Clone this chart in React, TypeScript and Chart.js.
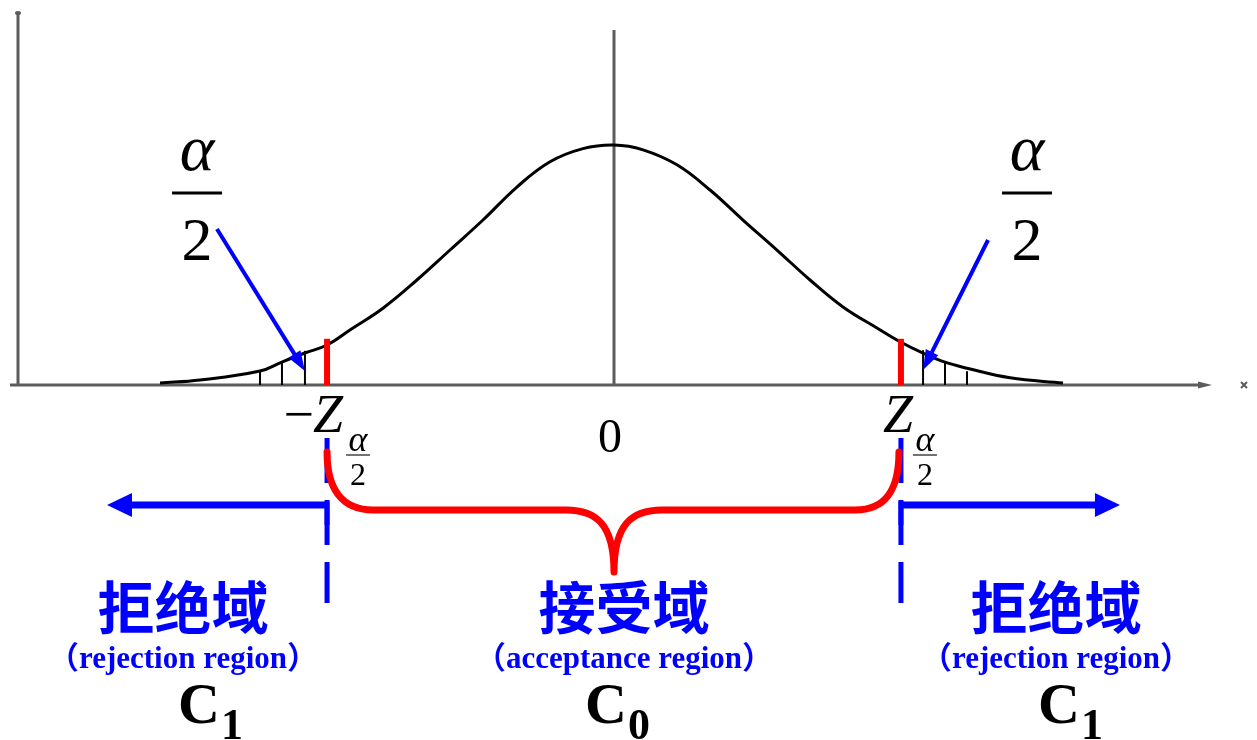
import { useEffect, useRef } from "react";
import { Chart, registerables } from "chart.js";

Chart.register(...registerables);

// Standard-normal curve (z, density)
const curveZ = [
  -3.101, -2.828, -2.418, -2.268, -2.111, -1.96, -1.796, -1.578, -1.346, -1.12, -0.895,
  -0.663, -0.437, -0.212, 0, 0.198, 0.43, 0.656, 0.881, 1.113, 1.339, 1.564,
  1.796, 1.954, 2.111, 2.261, 2.411, 2.705, 3.067,
];
const curveDensity = [
  0.0033, 0.0083, 0.0233, 0.0383, 0.0533, 0.0667, 0.093, 0.128, 0.175, 0.225, 0.275,
  0.33, 0.372, 0.394, 0.4, 0.392, 0.367, 0.325, 0.275, 0.225, 0.175, 0.13,
  0.095, 0.072, 0.053, 0.038, 0.028, 0.012, 0.0033,
];

// critical values and the red markers
const criticalZ = [-1.96, 1.96];
const criticalMarkTop = [0.077, 0.077];

// hatching in the tails
const hatchZ = [-2.418, -2.268, -2.111, 2.111, 2.261, 2.411];
const hatchTop = [0.025, 0.04, 0.057, 0.058, 0.04, 0.023];

// alpha/2 callouts: label centre, arrow tail, arrow tip (z, density)
const alphaLabelZ = [-2.848, 2.821];
const alphaLabelLine = [0.32, 0.32];
const alphaTailZ = [-2.712, 2.555];
const alphaTailY = [0.26, 0.2417];
const alphaTipZ = [-2.111, 2.111];
const alphaTipY = [0.0233, 0.025];

// reference line of the mean
const meanZ = 0;
const meanLineTop = 0.5917;

// axis tick labels
const tickLabels = ["−Z", "0", "Z"];

// region arrows end (z)
const rejectArrowEndZ = [-3.463, 3.456];

// region texts
const regionNames = ["拒绝域", "接受域", "拒绝域"];
const regionEnglish = ["（rejection region）", "（acceptance region）", "（rejection region）"];
const regionSymbols = ["C", "C", "C"];
const regionSubscripts = ["1", "0", "1"];

const BLUE = "#0000ff";
const RED = "#ff0000";
const AXIS = "#5c5c5c";
const SERIF = "'Liberation Serif', 'DejaVu Serif', serif";

function arrowHead(ctx: CanvasRenderingContext2D, x1: number, y1: number, x2: number, y2: number, len: number, half: number) {
  const a = Math.atan2(y2 - y1, x2 - x1);
  const bx = x2 - len * Math.cos(a);
  const by = y2 - len * Math.sin(a);
  ctx.beginPath();
  ctx.moveTo(x2, y2);
  ctx.lineTo(bx + half * Math.sin(a), by - half * Math.cos(a));
  ctx.lineTo(bx - half * Math.sin(a), by + half * Math.cos(a));
  ctx.closePath();
  ctx.fill();
}

const diagramPlugin = {
  id: "diagram",
  beforeDatasetsDraw(chart: any) {
    const { ctx, chartArea, scales } = chart;
    const x = scales.x;
    const y = scales.y;
    const yAxis = y.getPixelForValue(0);
    ctx.save();
    ctx.strokeStyle = AXIS;
    ctx.fillStyle = AXIS;
    ctx.lineWidth = 3;
    // horizontal axis
    ctx.beginPath();
    ctx.moveTo(chartArea.left - 8, yAxis);
    ctx.lineTo(chartArea.right - 8, yAxis);
    ctx.stroke();
    arrowHead(ctx, chartArea.right - 20, yAxis, chartArea.right + 2, yAxis, 14, 3.5);
    // vertical axis
    ctx.beginPath();
    ctx.moveTo(chartArea.left, yAxis);
    ctx.lineTo(chartArea.left, chartArea.top + 2);
    ctx.stroke();
    ctx.beginPath();
    ctx.ellipse(chartArea.left, chartArea.top + 1, 3, 2, 0, 0, Math.PI * 2);
    ctx.fill();
    // mean line
    const mx = x.getPixelForValue(meanZ);
    ctx.beginPath();
    ctx.moveTo(mx, yAxis);
    ctx.lineTo(mx, y.getPixelForValue(meanLineTop));
    ctx.stroke();
    // small x marker
    const cx = chartArea.right + 34;
    ctx.lineWidth = 2;
    ctx.beginPath();
    ctx.moveTo(cx - 3, yAxis - 3);
    ctx.lineTo(cx + 3, yAxis + 3);
    ctx.moveTo(cx + 3, yAxis - 3);
    ctx.lineTo(cx - 3, yAxis + 3);
    ctx.stroke();
    ctx.restore();
  },
  afterDatasetsDraw(chart: any) {
    const { ctx, scales } = chart;
    const x = scales.x;
    const y = scales.y;
    const px = (v: number) => x.getPixelForValue(v);
    const py = (v: number) => y.getPixelForValue(v);
    const yAxis = py(0);
    ctx.save();

    // hatch ticks
    ctx.strokeStyle = "#000";
    ctx.lineWidth = 2;
    hatchZ.forEach((z, i) => {
      ctx.beginPath();
      ctx.moveTo(px(z), yAxis);
      ctx.lineTo(px(z), py(hatchTop[i]));
      ctx.stroke();
    });

    // red critical marks
    ctx.strokeStyle = RED;
    ctx.lineWidth = 6;
    criticalZ.forEach((z, i) => {
      ctx.beginPath();
      ctx.moveTo(px(z), yAxis);
      ctx.lineTo(px(z), py(criticalMarkTop[i]));
      ctx.stroke();
    });

    // alpha/2 arrows
    ctx.strokeStyle = BLUE;
    ctx.fillStyle = BLUE;
    ctx.lineWidth = 4;
    alphaTailZ.forEach((z, i) => {
      const x1 = px(z), y1 = py(alphaTailY[i]);
      const x2 = px(alphaTipZ[i]), y2 = py(alphaTipY[i]);
      const a = Math.atan2(y2 - y1, x2 - x1);
      ctx.beginPath();
      ctx.moveTo(x1, y1);
      ctx.lineTo(x2 - 14 * Math.cos(a), y2 - 14 * Math.sin(a));
      ctx.stroke();
      arrowHead(ctx, x1, y1, x2, y2, 20, 7);
    });

    // alpha/2 fraction labels
    ctx.fillStyle = "#000";
    ctx.strokeStyle = "#000";
    alphaLabelZ.forEach((z, i) => {
      const cx = px(z);
      const ly = py(alphaLabelLine[i]);
      ctx.textAlign = "center";
      ctx.textBaseline = "alphabetic";
      ctx.font = `italic 66px ${SERIF}`;
      ctx.fillText("α", cx, ly - 23);
      ctx.lineWidth = 3;
      ctx.beginPath();
      ctx.moveTo(cx - 25, ly);
      ctx.lineTo(cx + 25, ly);
      ctx.stroke();
      ctx.font = `62px ${SERIF}`;
      ctx.fillText("2", cx, ly + 67);
    });

    // tick labels below axis
    const lx = px(criticalZ[0]);
    const rx = px(criticalZ[1]);
    const base = yAxis + 47;
    ctx.textBaseline = "alphabetic";
    ctx.font = `54px ${SERIF}`;
    ctx.textAlign = "right";
    ctx.fillText(tickLabels[0].charAt(0), lx - 13, base);
    ctx.font = `italic 54px ${SERIF}`;
    ctx.textAlign = "left";
    ctx.fillText(tickLabels[0].slice(1), lx - 14, base);
    ctx.fillText(tickLabels[2], rx - 18, base);
    ctx.font = `48px ${SERIF}`;
    ctx.textAlign = "center";
    ctx.fillText(tickLabels[1], px(meanZ) - 4, yAxis + 67);
    // subscript fractions
    [lx + 31, rx + 24].forEach((sx) => {
      ctx.font = `italic 36px ${SERIF}`;
      ctx.textAlign = "center";
      ctx.fillText("α", sx, yAxis + 66);
      ctx.strokeStyle = "#444";
      ctx.lineWidth = 1.5;
      ctx.beginPath();
      ctx.moveTo(sx - 12, yAxis + 70);
      ctx.lineTo(sx + 12, yAxis + 70);
      ctx.stroke();
      ctx.font = `32px ${SERIF}`;
      ctx.fillText("2", sx, yAxis + 100);
    });

    // blue dashed boundaries
    ctx.strokeStyle = BLUE;
    ctx.fillStyle = BLUE;
    ctx.lineWidth = 5;
    ctx.setLineDash([45, 17]);
    [lx, rx].forEach((bx) => {
      ctx.beginPath();
      ctx.moveTo(bx, yAxis + 53);
      ctx.lineTo(bx, yAxis + 218);
      ctx.stroke();
    });
    ctx.setLineDash([]);

    // rejection region arrows
    const ay = yAxis + 120;
    ctx.lineWidth = 7;
    [[lx, px(rejectArrowEndZ[0])], [rx, px(rejectArrowEndZ[1])]].forEach(([sx, ex]) => {
      const dir = Math.sign(ex - sx);
      ctx.beginPath();
      ctx.moveTo(sx, ay);
      ctx.lineTo(ex - dir * 18, ay);
      ctx.stroke();
      arrowHead(ctx, sx, ay, ex, ay, 25, 12);
      ctx.beginPath();
      ctx.moveTo(sx, ay - 3.5);
      ctx.lineTo(sx, ay + 20);
      ctx.lineWidth = 5;
      ctx.stroke();
      ctx.lineWidth = 7;
    });

    // red brace for acceptance region
    const M = px(meanZ);
    const top = yAxis + 67;
    const mid = yAxis + 125;
    const tip = yAxis + 187;
    ctx.strokeStyle = RED;
    ctx.lineWidth = 7;
    ctx.lineCap = "round";
    ctx.lineJoin = "round";
    ctx.beginPath();
    ctx.moveTo(lx, top);
    ctx.bezierCurveTo(lx, mid - 22, lx + 14, mid, lx + 46, mid);
    ctx.lineTo(M - 48, mid);
    ctx.bezierCurveTo(M - 18, mid, M, mid + 14, M, tip);
    ctx.moveTo(M, tip);
    ctx.bezierCurveTo(M, mid + 14, M + 18, mid, M + 48, mid);
    ctx.lineTo(rx - 46, mid);
    ctx.bezierCurveTo(rx - 14, mid, rx - 2, mid - 22, rx - 2, top);
    ctx.stroke();
    ctx.lineCap = "butt";

    // region texts
    const centers = [183, 624, 1056];
    const symLeft = [178, 585, 1038];
    regionNames.forEach((name, i) => {
      ctx.fillStyle = BLUE;
      ctx.textAlign = "center";
      ctx.textBaseline = "middle";
      ctx.font = `bold 57px 'Noto Sans CJK SC', sans-serif`;
      ctx.fillText(name, centers[i], yAxis + 222);
      ctx.textBaseline = "alphabetic";
      ctx.font = `bold 31px ${SERIF}, 'Noto Sans CJK SC'`;
      ctx.fillText(regionEnglish[i], centers[i], yAxis + 283);
      ctx.fillStyle = "#000";
      ctx.textAlign = "left";
      ctx.font = `bold 58px ${SERIF}`;
      ctx.fillText(regionSymbols[i], symLeft[i], yAxis + 338);
      const w = ctx.measureText(regionSymbols[i]).width;
      ctx.font = `bold 44px ${SERIF}`;
      ctx.fillText(regionSubscripts[i], symLeft[i] + w + 1, yAxis + 354);
    });

    ctx.restore();
  },
};

export default function App() {
  const canvasRef = useRef<HTMLCanvasElement | null>(null);

  useEffect(() => {
    if (!canvasRef.current) return;
    const points = curveZ.map((z, i) => ({ x: z, y: curveDensity[i] }));
    const chart = new Chart(canvasRef.current, {
      type: "scatter",
      data: {
        datasets: [
          {
            data: points,
            showLine: true,
            borderColor: "#000",
            borderWidth: 3,
            pointRadius: 0,
            tension: 0.4,
            fill: false,
          } as any,
        ],
      },
      options: {
        responsive: false,
        animation: false,
        events: [],
        layout: { padding: { left: 18, right: 47, top: 12, bottom: 355 } },
        plugins: { legend: { display: false }, tooltip: { enabled: false } },
        scales: {
          x: { type: "linear", min: -4.071, max: 4.071, display: false },
          y: { type: "linear", min: 0, max: 0.6217, display: false },
        },
      },
      plugins: [diagramPlugin],
    });
    return () => chart.destroy();
  }, []);

  return (
    <div style={{ position: "fixed", left: 0, top: 0, width: 1257, height: 740, background: "#fff" }}>
      <canvas ref={canvasRef} width={1257} height={740} style={{ display: "block" }} />
    </div>
  );
}
